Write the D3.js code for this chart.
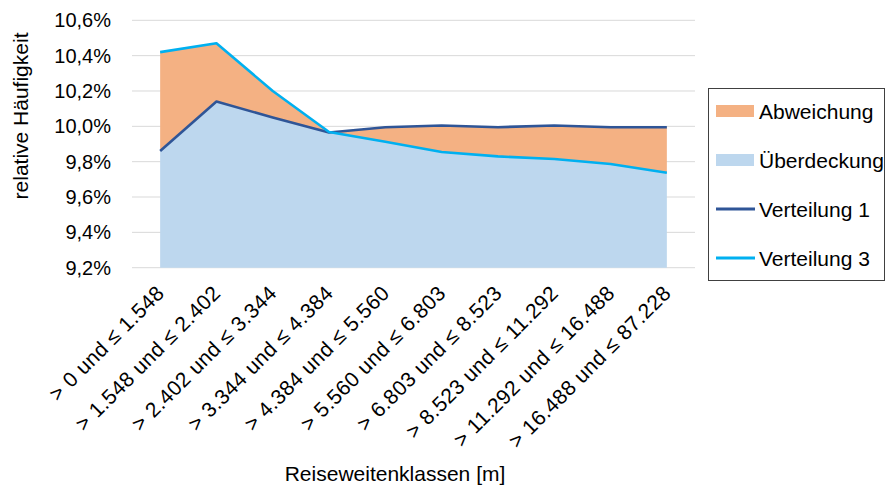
<!DOCTYPE html>
<html>
<head>
<meta charset="utf-8">
<script src="https://cdn.jsdelivr.net/npm/d3@7/dist/d3.min.js"></script>
<style>
  html, body { margin: 0; padding: 0; background: #fff; }
  svg text { font-family: "Liberation Sans", Arial, sans-serif; fill: #000; }
</style>
</head>
<body>
<svg id="chart" width="887" height="489"></svg>
<script>
// Distance classes (Reiseweitenklassen) and relative frequencies in percent
const categories = [
  "> 0 und ≤ 1.548",
  "> 1.548 und ≤ 2.402",
  "> 2.402 und ≤ 3.344",
  "> 3.344 und ≤ 4.384",
  "> 4.384 und ≤ 5.560",
  "> 5.560 und ≤ 6.803",
  "> 6.803 und ≤ 8.523",
  "> 8.523 und ≤ 11.292",
  "> 11.292 und ≤ 16.488",
  "> 16.488 und ≤ 87.228"
];
const verteilung1 = [9.86, 10.14, 10.05, 9.965, 9.995, 10.005, 9.995, 10.005, 9.995, 9.995];
const verteilung3 = [10.42, 10.47, 10.20, 9.968, 9.913, 9.855, 9.83, 9.815, 9.787, 9.737];
const yTicks = [9.2, 9.4, 9.6, 9.8, 10.0, 10.2, 10.4, 10.6];
const legendLabels = ["Abweichung", "Überdeckung", "Verteilung 1", "Verteilung 3"];

const colors = {
  abweichung: "#F4B183",
  ueberdeckung: "#BDD7EE",
  v1: "#2F5597",
  v3: "#00B0F0",
  grid: "#D9D9D9"
};

const svg = d3.select("#chart");
const plot = { left: 132, right: 695, top: 20.3, bottom: 267.7 };

const x = d3.scalePoint()
  .domain(categories)
  .range([plot.left, plot.right])
  .padding(0.5);

const y = d3.scaleLinear()
  .domain([9.2, 10.6])
  .range([plot.bottom, plot.top]);

const fmt = v => d3.format(".1f")(v).replace(".", ",") + "%";

// horizontal gridlines
svg.append("g")
  .selectAll("line")
  .data(yTicks)
  .join("line")
  .attr("x1", plot.left)
  .attr("x2", plot.right)
  .attr("y1", d => y(d))
  .attr("y2", d => y(d))
  .attr("stroke", colors.grid)
  .attr("stroke-width", 1);

// y axis labels
const yAxis = d3.axisLeft(y).tickValues(yTicks).tickFormat(fmt).tickSize(0).tickPadding(0);
const gy = svg.append("g")
  .attr("transform", "translate(111,0)")
  .call(yAxis);
gy.select(".domain").remove();
gy.selectAll("text")
  .attr("font-size", "20px")
  .attr("font-family", "Liberation Sans, Arial, sans-serif")
  .attr("fill", "#000");

const rows = categories.map((c, i) => ({
  c,
  v1: verteilung1[i],
  v3: verteilung3[i],
  lo: Math.min(verteilung1[i], verteilung3[i]),
  hi: Math.max(verteilung1[i], verteilung3[i])
}));

// Überdeckung: common part below both distributions
svg.append("path")
  .datum(rows)
  .attr("fill", colors.ueberdeckung)
  .attr("d", d3.area()
    .x(d => x(d.c))
    .y0(y(9.2))
    .y1(d => y(d.lo)));

// Abweichung: gap between the two distributions
svg.append("path")
  .datum(rows)
  .attr("fill", colors.abweichung)
  .attr("d", d3.area()
    .x(d => x(d.c))
    .y0(d => y(d.lo))
    .y1(d => y(d.hi)));

// distribution lines
const lineV1 = d3.line().x(d => x(d.c)).y(d => y(d.v1));
const lineV3 = d3.line().x(d => x(d.c)).y(d => y(d.v3));

svg.append("path")
  .datum(rows)
  .attr("fill", "none")
  .attr("stroke", colors.v1)
  .attr("stroke-width", 2.6)
  .attr("stroke-linejoin", "round")
  .attr("d", lineV1);

svg.append("path")
  .datum(rows)
  .attr("fill", "none")
  .attr("stroke", colors.v3)
  .attr("stroke-width", 2.6)
  .attr("stroke-linejoin", "round")
  .attr("d", lineV3);

// rotated category labels
svg.append("g")
  .selectAll("text")
  .data(categories)
  .join("text")
  .attr("transform", d => `translate(${x(d) - 5},${284}) rotate(-45)`)
  .attr("text-anchor", "end")
  .attr("dy", "0.7em")
  .attr("font-size", "21px")
  .attr("letter-spacing", "0.4px")
  .text(d => d);

// axis titles
svg.append("text")
  .attr("x", 395)
  .attr("y", 481)
  .attr("text-anchor", "middle")
  .attr("font-size", "21px")
  .text("Reiseweitenklassen [m]");

svg.append("text")
  .attr("transform", "translate(28,116) rotate(-90)")
  .attr("text-anchor", "middle")
  .attr("font-size", "21px")
  .text("relative Häufigkeit");

// legend
const lg = svg.append("g");
lg.append("rect")
  .attr("x", 708.5)
  .attr("y", 88.5)
  .attr("width", 176)
  .attr("height", 192)
  .attr("fill", "#fff")
  .attr("stroke", "#404040")
  .attr("stroke-width", 1);

const legendItems = [
  { label: legendLabels[0], type: "area", color: colors.abweichung },
  { label: legendLabels[1], type: "area", color: colors.ueberdeckung },
  { label: legendLabels[2], type: "line", color: colors.v1 },
  { label: legendLabels[3], type: "line", color: colors.v3 }
];
const legendY = d3.scalePoint().domain(legendItems.map(d => d.label)).range([111, 258]);

legendItems.forEach(item => {
  const cy = legendY(item.label);
  if (item.type === "area") {
    lg.append("rect")
      .attr("x", 716).attr("y", cy - 6)
      .attr("width", 38).attr("height", 12)
      .attr("fill", item.color);
  } else {
    lg.append("line")
      .attr("x1", 716).attr("x2", 755)
      .attr("y1", cy).attr("y2", cy)
      .attr("stroke", item.color)
      .attr("stroke-width", 3);
  }
  lg.append("text")
    .attr("x", 759)
    .attr("y", cy)
    .attr("dy", "0.36em")
    .attr("font-size", "21px")
    .text(item.label);
});
</script>
</body>
</html>
